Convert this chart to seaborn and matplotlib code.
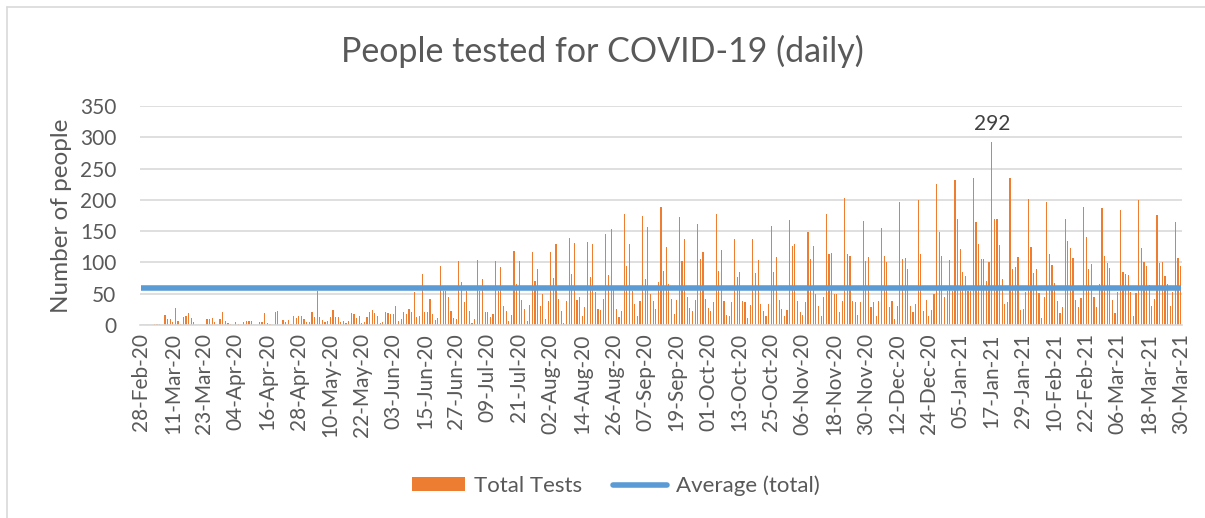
import numpy as np
import pandas as pd
import matplotlib
matplotlib.use('Agg')
import matplotlib.pyplot as plt
from matplotlib.patches import Patch
from matplotlib.lines import Line2D
import seaborn as sns

# daily tests
feb20 = [0, 0]
mar20 = [0, 0, 0, 2, 2, 2, 0, 16, 9, 10, 4, 27, 6, 2, 13, 14, 19, 11, 4,
         0, 0, 0, 0, 10, 10, 11, 5, 0, 9, 21, 7]
apr20 = [3, 2, 0, 4, 2, 0, 4, 7, 7, 7, 0, 0, 4, 4, 19, 3, 2, 0, 20, 23,
         0, 8, 5, 8, 2, 14, 11, 14, 14, 9]
may20 = [4, 4, 20, 12, 54, 12, 8, 5, 6, 13, 24, 12, 13, 5, 7, 3, 7, 19, 17,
         11, 14, 3, 5, 13, 20, 24, 19, 15, 3, 5, 20]
jun20 = [19, 17, 18, 30, 6, 9, 21, 17, 25, 20, 53, 13, 14, 82, 21, 20, 41,
         18, 8, 11, 95, 55, 55, 45, 23, 11, 10, 102, 68, 37]
jul20 = [54, 23, 3, 9, 104, 55, 74, 21, 21, 12, 17, 103, 55, 92, 30, 23, 6,
         16, 118, 66, 103, 40, 26, 6, 32, 116, 71, 90, 31, 49, 10]
aug20 = [38, 116, 75, 129, 42, 22, 3, 38, 139, 82, 131, 40, 44, 15, 29, 132,
         77, 129, 52, 26, 24, 41, 145, 80, 153, 58, 25, 13, 22, 177, 95]
sep20 = [129, 55, 33, 14, 38, 175, 74, 156, 49, 38, 26, 69, 188, 87, 124, 66,
         42, 18, 40, 173, 103, 137, 44, 27, 23, 40, 161, 106, 117, 42]
oct20 = [27, 22, 36, 178, 87, 120, 39, 16, 14, 36, 138, 76, 85, 39, 36, 11,
         32, 137, 83, 104, 34, 23, 14, 33, 158, 84, 109, 40, 25, 14, 24]
nov20 = [168, 127, 129, 38, 21, 16, 36, 148, 106, 127, 50, 31, 14, 45, 178,
         113, 115, 50, 50, 21, 38, 203, 114, 110, 38, 37, 16, 37, 167, 103]
dec20 = [108, 29, 37, 14, 38, 155, 111, 101, 29, 38, 10, 30, 196, 106, 107,
         90, 30, 20, 33, 199, 113, 22, 40, 14, 24, 50, 225, 149, 110, 44, 54]
jan21 = [104, 54, 232, 170, 122, 85, 78, 54, 54, 235, 165, 129, 105, 106, 70,
         101, 292, 170, 169, 128, 73, 34, 37, 235, 89, 93, 108, 24, 26, 53, 201]
feb21 = [124, 83, 89, 51, 11, 45, 196, 113, 96, 67, 38, 19, 28, 170, 135, 123,
         107, 40, 28, 43, 189, 140, 89, 98, 44, 28, 65, 187]
mar21 = [110, 99, 91, 40, 19, 53, 184, 85, 82, 80, 53, 14, 51, 199, 123, 100,
         95, 64, 30, 42, 176, 99, 100, 78, 65, 30, 53, 165, 107, 94]

average_total = 59

tests = (feb20 + mar20 + apr20 + may20 + jun20 + jul20 + aug20 + sep20 +
         oct20 + nov20 + dec20 + jan21 + feb21 + mar21)
dates = pd.date_range('2020-02-28', '2021-03-30', freq='D')
assert len(tests) == len(dates)

df = pd.DataFrame({'day': np.arange(len(dates)), 'tests': tests,
                   'avg': [average_total] * len(dates)})

sns.set_style('white')
plt.rcParams['font.family'] = ['Lato', 'DejaVu Sans']

grey = '#595959'
fig = plt.figure(figsize=(12.05, 5.18), dpi=100)
ax = fig.add_axes([140 / 1205, 1 - 325 / 518, 1042 / 1205, 219 / 518])

sns.barplot(data=df, x='day', y='tests', color='#ED7D31', width=0.45,
            linewidth=0, saturation=1, ax=ax)
sns.lineplot(data=df, x='day', y='avg', color='#5B9BD5', linewidth=4,
             ax=ax, solid_capstyle='butt')

ax.set_xlim(-0.5, len(dates) - 0.5)
ax.set_ylim(0, 350)
ax.set_yticks(range(0, 351, 50))
ax.yaxis.grid(True, color='#D9D9D9', linewidth=1.2)
ax.set_axisbelow(True)
for s in ['top', 'right', 'left']:
    ax.spines[s].set_visible(False)
ax.spines['bottom'].set_color('#D9D9D9')
ax.spines['bottom'].set_linewidth(1.2)

tick_pos = list(range(0, len(dates), 12))
ax.set_xticks(tick_pos)
ax.set_xticklabels([dates[i].strftime('%d-%b-%y') for i in tick_pos],
                   rotation=90, fontsize=15, color=grey)
ax.tick_params(axis='y', labelsize=15, labelcolor=grey, length=0, pad=17)
ax.tick_params(axis='x', length=0, pad=6)
ax.set_xlabel('')
ax.set_ylabel('Number of people', fontsize=17.5, color=grey, labelpad=6)

# peak label
peak = int(np.argmax(tests))
ax.text(peak, tests[peak] + 14, str(tests[peak]), ha='center', va='bottom',
        fontsize=15, color='#404040')

fig.suptitle('People tested for COVID-19 (daily)', y=0.9, va='center',
             fontsize=24.5, color=grey)

handles = [Patch(facecolor='#ED7D31', edgecolor='none', label='Total Tests'),
           Line2D([0], [0], color='#5B9BD5', linewidth=4, label='Average (total)')]
leg = fig.legend(handles=handles, loc='center', bbox_to_anchor=(0.511, 0.062),
                 ncol=2, frameon=False, fontsize=16, handlelength=2.4,
                 handleheight=0.6, columnspacing=1.4, handletextpad=0.4)
for t in leg.get_texts():
    t.set_color(grey)

# chart border (only top and left visible)
fig.add_artist(Line2D([7 / 1205, 1], [1 - 7 / 518, 1 - 7 / 518],
                      color='#D9D9D9', linewidth=1.2))
fig.add_artist(Line2D([7 / 1205, 7 / 1205], [0, 1 - 7 / 518],
                      color='#D9D9D9', linewidth=1.2))

fig.savefig('out.png', dpi=100)
